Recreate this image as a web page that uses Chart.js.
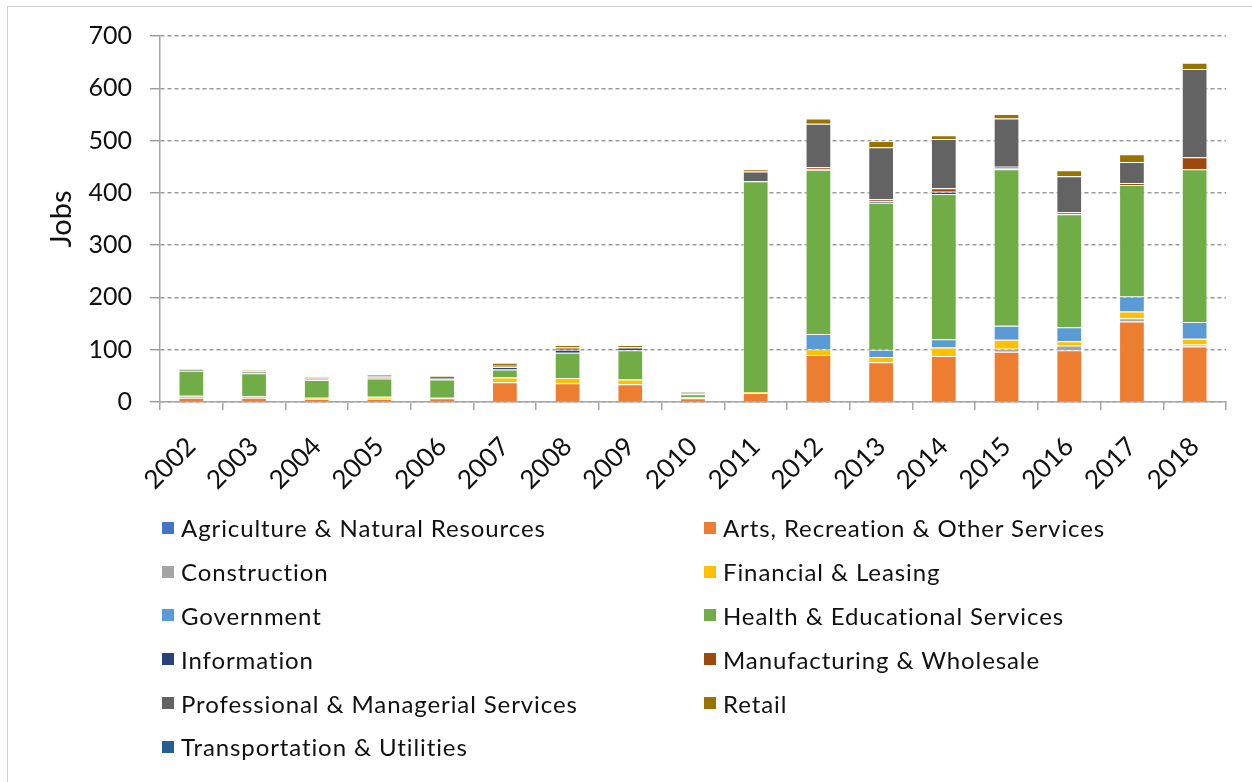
<!DOCTYPE html>
<html>
<head>
<meta charset="utf-8">
<script src="https://cdn.jsdelivr.net/npm/chart.js@4"></script>
<style>
    html, body { margin: 0; padding: 0; background: #fff; overflow: hidden; }
    .frame {
        position: absolute; left: 7px; top: 6px; width: 1260px; height: 800px;
        border: 1px solid #d0d0d0; box-sizing: border-box;
    }
    #chart { position: absolute; left: 0; top: 0; }
    .legend {
        position: absolute; left: 162px; top: 506px;
        display: grid; grid-template-columns: 542px 500px; grid-auto-rows: 43.8px;
        font-family: Lato, 'Open Sans', sans-serif; font-size: 24px; letter-spacing: 0.9px; color: #111;
    }
    .legend-item { display: flex; align-items: center; height: 43.8px; }
    .legend-box { width: 12px; height: 12px; margin-right: 7px; flex: none; }
</style>
</head>
<body>
<div class="frame"></div>
<canvas id="chart" width="1252" height="510"></canvas>
<div class="legend" id="legend"></div>
<script>
(function () {
    'use strict';

    const years = ['2002', '2003', '2004', '2005', '2006', '2007', '2008', '2009', '2010',
        '2011', '2012', '2013', '2014', '2015', '2016', '2017', '2018'];

    const agriculture = [0, 0, 0, 0, 0, 0, 0, 0, 0, 0, 0, 0, 0, 0, 0, 0, 0];
    const arts = [8, 8, 6, 6, 7, 38, 36, 34, 7, 17, 90, 76, 88, 96, 99, 154, 106];
    const construction = [4, 3, 0, 0, 0, 0, 0, 0, 0, 0, 0, 0, 0, 6, 9, 6, 4];
    const financial = [0, 0, 2, 4, 1, 9, 10, 9, 2, 2, 11, 10, 16, 17, 8, 13, 11];
    const government = [0, 0, 0, 0, 0, 0, 0, 0, 0, 0, 29, 14, 16, 27, 27, 29, 32];
    const health = [48, 44, 34, 35, 35, 15, 48, 56, 6, 403, 314, 281, 278, 299, 216, 213, 292];
    const information = [0, 0, 1, 0, 0, 5, 6, 5, 2, 0, 1, 3, 4, 2, 0, 0, 0];
    const manufacturing = [0, 1, 0, 2, 1, 2, 4, 1, 0, 0, 4, 4, 7, 3, 4, 4, 23];
    const professional = [2, 3, 2, 3, 2, 2, 0, 0, 1, 19, 83, 99, 94, 92, 69, 40, 169];
    const retail = [2, 2, 3, 3, 4, 4, 5, 4, 2, 4, 10, 12, 7, 9, 11, 15, 12];
    const transportation = [0, 0, 0, 0, 0, 0, 0, 0, 0, 0, 0, 0, 0, 0, 0, 0, 0];

    const series = [
        { label: 'Agriculture & Natural Resources', data: agriculture, color: '#4472c4' },
        { label: 'Arts, Recreation & Other Services', data: arts, color: '#ed7d31' },
        { label: 'Construction', data: construction, color: '#a5a5a5' },
        { label: 'Financial & Leasing', data: financial, color: '#ffc000' },
        { label: 'Government', data: government, color: '#5b9bd5' },
        { label: 'Health & Educational Services', data: health, color: '#70ad47' },
        { label: 'Information', data: information, color: '#264478' },
        { label: 'Manufacturing & Wholesale', data: manufacturing, color: '#9e480e' },
        { label: 'Professional & Managerial Services', data: professional, color: '#636363' },
        { label: 'Retail', data: retail, color: '#997300' },
        { label: 'Transportation & Utilities', data: transportation, color: '#255e91' }
    ];

    const font = "Lato, 'Open Sans', sans-serif";
    const axisGrey = '#a6a6a6';

    new Chart(document.getElementById('chart'), {
        type: 'bar',
        data: {
            labels: years,
            datasets: series.map((s) => ({
                label: s.label,
                data: s.data,
                backgroundColor: s.color,
                borderColor: 'rgba(255,255,255,0.55)',
                borderWidth: 1,
                barPercentage: 0.41,
                categoryPercentage: 1
            }))
        },
        options: {
            responsive: false,
            animation: false,
            layout: { padding: { left: 0, top: 36, right: 26, bottom: 0 } },
            plugins: {
                legend: { display: false },
                tooltip: { enabled: false }
            },
            scales: {
                x: {
                    stacked: true,
                    afterFit: (scale) => { scale.height = 108; },
                    grid: { drawOnChartArea: false, drawTicks: true, tickLength: 8, color: axisGrey, lineWidth: 1.5 },
                    border: { color: axisGrey, width: 1.5 },
                    ticks: {
                        minRotation: 45, maxRotation: 45, padding: 21,
                        color: '#111', font: { family: font, size: 26 }
                    }
                },
                y: {
                    stacked: true,
                    min: 0,
                    max: 700,
                    afterFit: (scale) => { scale.width = 160; },
                    grid: { color: '#9a9a9a', lineWidth: 1.4, tickLength: 10 },
                    border: { color: axisGrey, width: 1.5, dash: [4, 3] },
                    ticks: {
                        stepSize: 100, padding: 18,
                        color: '#111', font: { family: font, size: 25 }
                    },
                    title: {
                        display: true, text: 'Jobs', color: '#111',
                        padding: { top: 44, bottom: 0 },
                        font: { family: font, size: 29, weight: 'normal' }
                    }
                }
            }
        }
    });

    const legend = document.getElementById('legend');
    series.forEach((s) => {
        const item = document.createElement('div');
        item.className = 'legend-item';
        const box = document.createElement('span');
        box.className = 'legend-box';
        box.style.background = s.color;
        const text = document.createElement('span');
        text.textContent = s.label;
        item.appendChild(box);
        item.appendChild(text);
        legend.appendChild(item);
    });
})();
</script>
</body>
</html>
